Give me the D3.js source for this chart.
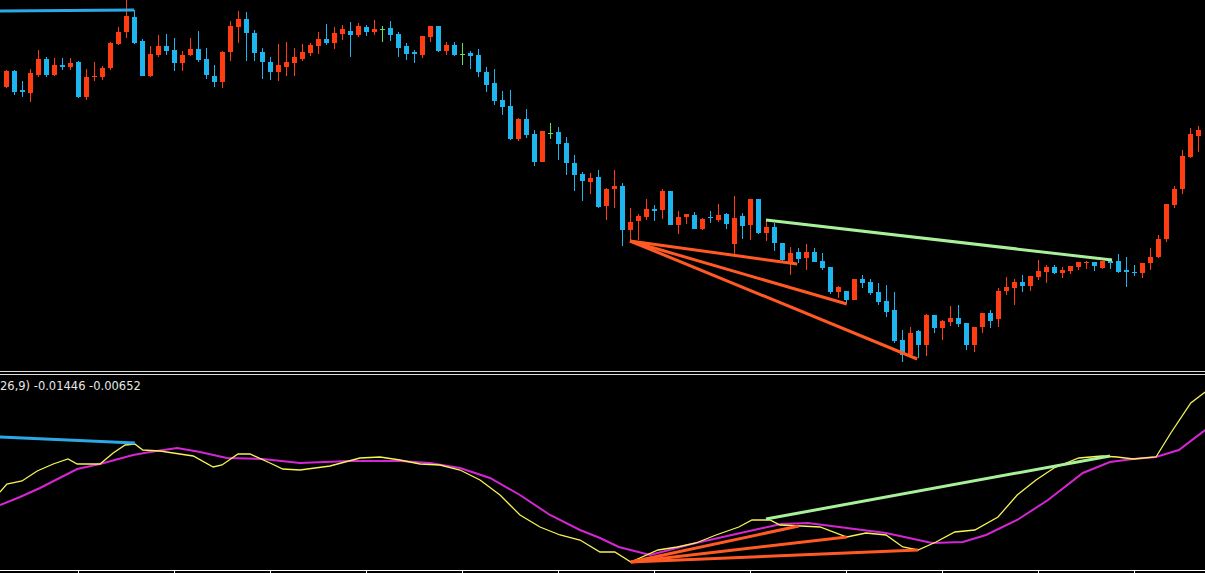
<!DOCTYPE html>
<html><head><meta charset="utf-8">
<script src="https://cdn.jsdelivr.net/npm/d3@7/dist/d3.min.js"></script>
<style>html,body{margin:0;padding:0;background:#000;overflow:hidden}</style>
</head><body><svg id="c" width="1205" height="573"></svg>
<script>
const open=[313,329,310,307,325,341,325,335,333,338,303,323,323,332,356,368,383,359,324,345,354,350,337,345,351,341,324,318,348,373,381,367,348,338,328,333,337,341,347,354,361,357,366,369,365,373,368,371,372,366,354,348,345,363,374,349,355,346,347,345,328,317,300,294,261,281,266,238,267,268,257,237,226,218,223,194,211,214,170,179,183,191,190,209,175,183,185,171,183,180,186,156,184,175,201,167,173,157,137,148,142,148,139,133,108,109,100,121,118,108,99,90,60,45,69,55,85,72,78,82,77,55,73,87,81,109,112,118,114,123,128,133,127,129,133,137,138,132,139,139,130,128,127,137,143,161,195,211,243,264];
const high=[330,330,319,331,350,343,342,342,342,339,331,338,334,358,373,400,390,361,354,365,366,362,349,362,369,352,335,349,379,389,388,370,352,343,356,358,352,356,357,368,376,373,375,378,377,375,380,374,379,368,357,350,364,374,374,358,358,357,349,351,333,331,309,310,282,291,270,269,277,273,263,245,228,227,230,212,230,217,192,186,201,195,211,209,189,186,188,182,189,196,187,204,187,201,201,181,177,157,153,152,156,152,147,133,114,109,121,125,121,117,115,108,70,73,70,86,85,80,94,95,77,73,87,90,112,123,121,125,124,140,135,135,133,134,138,139,138,139,142,146,143,135,137,152,165,196,214,250,272,274];
const low=[312,305,303,298,323,323,324,330,330,302,300,319,320,330,355,362,356,324,323,343,345,329,329,344,338,321,313,312,339,357,339,339,321,320,319,324,324,339,344,346,355,351,360,343,363,364,365,358,359,343,340,337,342,358,348,345,344,335,331,323,308,295,285,260,259,262,234,238,261,240,225,209,199,206,192,180,192,154,158,160,180,179,181,175,166,176,171,170,177,178,171,146,161,160,166,159,149,138,125,137,130,138,130,106,102,97,100,112,105,95,83,57,38,43,42,44,67,60,74,73,50,48,67,72,73,105,95,108,109,120,117,126,122,126,130,131,129,131,131,127,113,124,122,130,142,158,192,206,242,248];
const close=[329,308,308,327,341,325,335,333,337,303,323,324,332,357,368,384,357,324,346,354,349,337,345,351,340,325,318,348,374,381,367,347,338,328,335,338,343,348,355,361,357,367,371,365,374,368,371,371,365,352,346,346,364,374,349,355,345,346,344,328,315,299,293,261,281,265,238,269,267,256,237,225,219,222,193,211,214,170,178,184,191,189,209,175,183,186,171,181,182,185,176,182,174,201,167,173,157,140,147,141,148,138,132,108,113,100,121,117,107,98,88,59,45,67,55,85,72,79,82,76,55,73,87,79,109,113,118,114,124,129,133,127,130,134,138,138,134,139,137,128,128,127,137,143,161,196,211,244,266,270];
const tickIdx=[9,21,33,45,57,69,81,93,105,117,129,141];
// price-panel trend lines: [startIdx,startVal,endIdx,endVal]
const priceBlue=[[-0.75,389,16,390]];
const priceGreen=[[95,180,138.25,140]];
const priceRed=[[78,159,98.9,136],[78,159,105.1,96],[78,159,113.9,41]];
// MACD lines
const macdIdx=[-0.75,0.1,2,3.9,5.9,7.75,8.9,11.75,13.4,14.9,16.1,17.1,19.25,20.9,23.4,25.9,27,29,30.5,33,34.6,36.75,40.5,44.25,46.75,49.25,51.75,54.25,56.75,59.25,61.75,64.25,66.75,69.25,71.75,74.25,76.1,78.1,81.5,83.9,86.25,88.75,91.6,93.25,95.5,96.75,99.4,101.75,105.1,107.5,110,112.1,114,116.25,118.6,121.1,124,126.4,128.75,131,134.1,137,138.9,140.9,143.75,145.6,148.1,149.9];
const macdVal=[8,16,19,29,36,41,36,36,47,55,56,50,49,47,44,33,35,46,46,37,31,30,34,42,43,40,36,35,30,20,5,-15,-27,-35,-40,-52,-52,-62,-50,-47,-43,-35,-27,-20,-20,-25,-26,-27,-37,-33,-35,-47,-50,-42,-32,-30,-17,5,20,32,42,44,43,41,43,67,97,108];
const sigIdx=[-0.75,1.75,4.25,8.9,11.75,15.9,18,21.4,24.25,27.6,32.1,36.75,43,49.25,53,56.75,60.5,64.25,68,71.75,74.25,76.6,80.5,86.25,93.5,96.9,100.25,105.1,110,115.75,119.6,122.5,126.4,130.25,134.6,138,140.9,143.75,146.6,149.9];
const sigVal=[-5,3,12,31,36,45,48,52,48,42,41,37,39,39,37,32,22,5,-15,-30,-38,-47,-55,-43,-30,-24,-23,-28,-33,-43,-42,-35,-20,0,27,38,41,43,50,70];
const macdBlue=[[-0.75,63,16.1,57]];
const macdGreen=[[95,-19,138,44]];
const macdRed=[[78.1,-62,99.1,-26],[78.1,-62,105.1,-37],[78.1,-62,114,-50]];
const label="26,9) -0.01446 -0.00652";

const svg=d3.select("#c");
svg.append("rect").attr("width",1205).attr("height",573).attr("fill","#000");
const x=d3.scaleLinear().domain([0,149]).range([6,1198]);
const yp=d3.scaleLinear().domain([0,400]).range([400,0]);
const ym=d3.scaleLinear().domain([-70,124]).range([570,376]);
const col=i=>close[i]>open[i]?"#ff3c12":close[i]<open[i]?"#1eb4ee":"#5fe05a";
const g=svg.append("g");
const idx=d3.range(open.length);
g.selectAll("line.w").data(idx).join("line").attr("x1",i=>Math.round(x(i))+0.5).attr("x2",i=>Math.round(x(i))+0.5)
 .attr("y1",i=>yp(high[i])).attr("y2",i=>yp(low[i])).attr("stroke",col).attr("stroke-width",1);
g.selectAll("rect.b").data(idx).join("rect").attr("x",i=>Math.round(x(i))-2).attr("width",5)
 .attr("y",i=>yp(Math.max(open[i],close[i]))).attr("height",i=>Math.max(1,Math.abs(yp(open[i])-yp(close[i])))).attr("fill",col);
function seg(data,ys,color,w){svg.selectAll(null).data(data).join("line").attr("x1",d=>x(d[0])).attr("y1",d=>ys(d[1])).attr("x2",d=>x(d[2])).attr("y2",d=>ys(d[3])).attr("stroke",color).attr("stroke-width",w);}
seg(priceBlue,yp,"#2aa8e8",3);
seg(priceGreen,yp,"#a8f09a",3);
seg(priceRed,yp,"#ff5a24",3);
// separator
svg.append("line").attr("x1",0).attr("x2",1205).attr("y1",371.5).attr("y2",371.5).attr("stroke","#ddd");
svg.append("line").attr("x1",0).attr("x2",1205).attr("y1",374.5).attr("y2",374.5).attr("stroke","#ddd");
svg.append("text").attr("x",0).attr("y",390).attr("fill","#e6e6e6").attr("font-family","DejaVu Sans").attr("font-size",11.5).text(label);
const ln=d3.line().x(d=>x(d[0])).y(d=>ym(d[1]));
svg.append("path").attr("d",ln(sigIdx.map((v,i)=>[v,sigVal[i]]))).attr("fill","none").attr("stroke","#d526d5").attr("stroke-width",2);
svg.append("path").attr("d",ln(macdIdx.map((v,i)=>[v,macdVal[i]]))).attr("fill","none").attr("stroke","#f4f456").attr("stroke-width",1.3);
seg(macdBlue,ym,"#2aa8e8",3);
seg(macdGreen,ym,"#a8f09a",3);
seg(macdRed,ym,"#ff5a24",3);
// bottom axis
svg.append("line").attr("x1",0).attr("x2",1205).attr("y1",570.5).attr("y2",570.5).attr("stroke","#fff");
svg.selectAll(null).data(tickIdx).join("line").attr("x1",d=>Math.round(x(d))+0.5).attr("x2",d=>Math.round(x(d))+0.5).attr("y1",570).attr("y2",573).attr("stroke","#fff");
</script></body></html>
